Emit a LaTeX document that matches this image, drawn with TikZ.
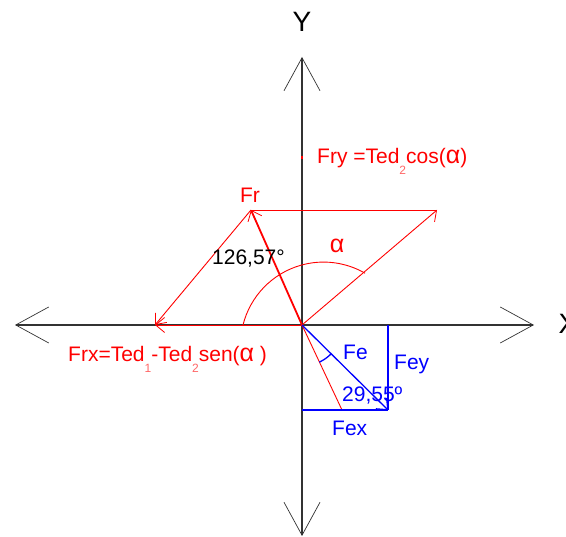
\documentclass[tikz,border=0pt]{standalone}
\usepackage{fontspec}
\setmainfont{Liberation Sans}
\usetikzlibrary{arrows.meta}
\newcommand{\alfa}{{\fontsize{25}{25}\selectfont α}}
\newcommand{\indice}[1]{\raisebox{-11pt}{\fontsize{12}{12}\selectfont\color{red!60}#1}}

\begin{document}
\begin{tikzpicture}[x=1pt,y=-1pt,
    grande/.tip={Straight Barb[length=33pt,width=36pt,line width=0.7pt]},
    ponta/.tip={Straight Barb[length=9pt,width=15pt,line width=0.8pt]},
    eixo/.style={line width=1.5pt,black!80},
    vermelho/.style={red,line width=0.9pt},
    azul/.style={blue,line width=1.3pt},
    rotulo/.style={inner sep=0pt,anchor=base west,font=\fontsize{21}{24}\selectfont}]
    \useasboundingbox (0,0) rectangle (566,537);
    \clip (0,0) rectangle (566,537);

    \coordinate (O) at (302,325);
    \coordinate (xe) at (15,325);
    \coordinate (xd) at (534,325);
    \coordinate (yc) at (302,57);
    \coordinate (yb) at (302,536);
    \draw[eixo,grande-grande] (xe) -- (xd);
    \draw[eixo,grande-grande] (yc) -- (yb);
    \node[font=\fontsize{28}{28}\selectfont] (Y) at (302,22) {Y};
    \node[font=\fontsize{28}{28}\selectfont] (X) at (568,324) {X};

    % forcas em vermelho
    \coordinate (Fr) at (251,210);
    \coordinate (T2) at (437,210);
    \coordinate (T1) at (155,325);
    \coordinate (Frb) at (342,410);
    \coordinate (Fry) at (302,156);
    \draw[vermelho] (Fr) -- (T2);
    \draw[vermelho,-ponta] (O) -- (T2);
    \draw[vermelho,-ponta] (O) -- (T1);
    \draw[vermelho,-ponta] (Fr) -- (T1);
    \draw[vermelho,line width=1.8pt,-ponta] (O) -- (Fr);
    \draw[vermelho] (O) -- (Frb);
    \draw[vermelho,line width=1.5pt] (Fry) -- ++(0,3);
    \draw[vermelho] (243,325) arc[start angle=166,end angle=60,radius=83pt];

    % forcas em azul
    \coordinate (Fe) at (388,410);
    \coordinate (Fey) at (388,325);
    \coordinate (Fex) at (302,410);
    \draw[azul] (Fey) -- (Fe);
    \draw[azul] (Fex) -- (Fe);
    \draw[azul,-ponta] (O) -- (Fe);
    \draw[azul] (O) ++(-65:41pt) arc[start angle=-65,end angle=-45,radius=41pt];

    % textos
    \node[rotulo,red] (tFry) at (317,164) {Fry =Ted\indice{2}cos(\alfa)};
    \node[rotulo,red,anchor=base] (tFr) at (250,203) {Fr};
    \node[rotulo,red] (tFrx) at (68,362) {Frx=Ted\indice{1}-Ted\indice{2}sen(\alfa\ )};
    \node[rotulo,red,anchor=base] (talfa) at (337,253) {\alfa};
    \node[rotulo] (tang) at (212,265) {126,57°};
    \node[rotulo,blue] (tFe) at (343,360) {Fe};
    \node[rotulo,blue] (tFey) at (394,370) {Fey};
    \node[rotulo,blue] (tang2) at (342,402) {29,55º};
    \node[rotulo,blue] (tFex) at (332,436) {Fex};
\end{tikzpicture}
\end{document}
